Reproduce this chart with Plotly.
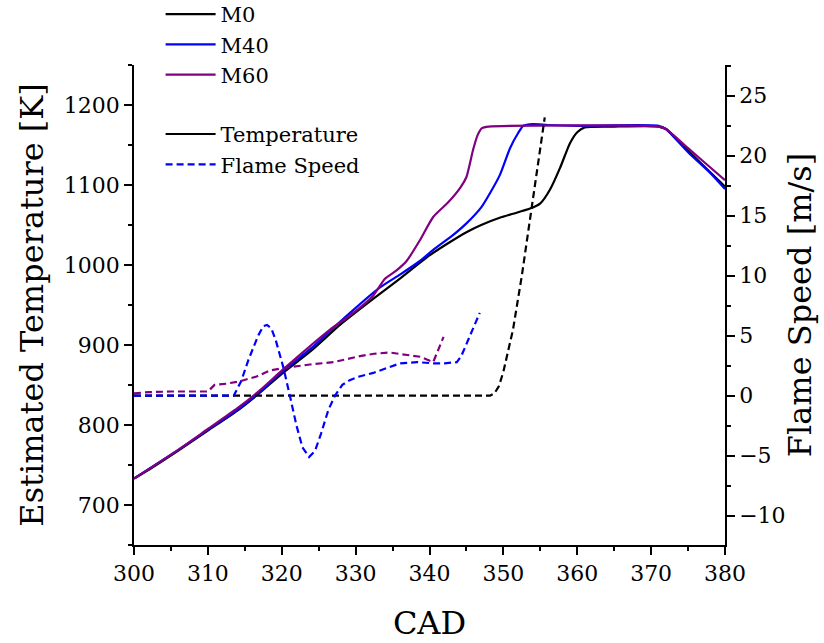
import plotly.graph_objects as go

# ---------------- data ----------------
cad_m0 = [300, 302, 306, 310, 314, 317, 320, 324, 328, 333, 336, 340, 343, 345, 347,
          349.5, 352, 354, 355, 356.3, 357.7, 359, 360, 361, 365, 371, 372, 375, 378, 380]
temp_m0 = [733, 744, 768, 793, 818, 840, 864, 893, 926, 962, 983, 1012, 1030, 1041, 1050,
           1059, 1066, 1072, 1077, 1094, 1122, 1152, 1166, 1172, 1173, 1173, 1170, 1143, 1116, 1098]

cad_m40 = [300, 306, 310, 314, 317, 320, 324, 328, 333.3, 336, 338.7, 340.5, 343, 345,
           347, 348.2, 349.5, 350.9, 352, 352.7, 354, 356, 360, 371, 372, 375, 378, 380]
temp_m40 = [733, 769, 794, 819, 841, 866, 896, 930, 972, 988, 1005, 1019, 1036, 1052,
            1072, 1090, 1112, 1146, 1165, 1174, 1176, 1175, 1174, 1174, 1170, 1141, 1115, 1095]

cad_m60 = [300, 306, 310, 314, 317, 320, 324, 326.5, 328.8, 330.5, 332.4, 334, 335.5,
           336.9, 338.7, 340.5, 342.5, 344.2, 345, 345.9, 346.5, 347.1, 348, 371, 372,
           375, 377, 380]
temp_m60 = [733, 769, 795, 821, 843, 868, 900, 919, 934, 946, 962, 983, 993,
            1005, 1031, 1060, 1078, 1097, 1110, 1144, 1162, 1171, 1173, 1173, 1170,
            1146, 1130, 1106]

cad_fs_m0 = [300, 348.2, 348.8, 349.4, 350.0, 350.6, 351.3, 352.5, 354.0, 355.6]
fs_m0 = [0, 0, 0.2, 0.8, 2.0, 3.6, 5.5, 10, 16.3, 23.2]

cad_fs_m40 = [300, 313.5, 314.5, 315.5, 316.8, 317.5, 318.0, 318.6, 319.2, 320.2, 321.1,
              322.0, 322.8, 323.7, 324.5, 325.3, 326.3, 327.2, 328.2, 329.2, 330.5,
              332.4, 334.2, 336.0, 338.3, 340.5, 342.0, 343.7, 344.3, 344.8, 345.8, 346.8]
fs_m40 = [0, 0, 1.2, 3.0, 5.0, 5.8, 5.9, 5.6, 4.6, 2.4, 0,
          -2.5, -4.3, -5.1, -4.6, -3.2, -1.2, 0, 0.9, 1.3, 1.6,
          1.9, 2.3, 2.7, 2.8, 2.7, 2.7, 2.8, 3.3, 4.0, 5.5, 6.9]

cad_fs_m60 = [300, 302, 305, 308, 310, 310.9, 312.5, 314.3, 316.6, 318.4, 320.2, 323.8,
              327.0, 330.6, 332.5, 334.6, 336.0, 336.9, 338.7, 340.5, 341.2, 341.9]
fs_m60 = [0.2, 0.3, 0.35, 0.35, 0.35, 0.9, 1.0, 1.2, 1.6, 2.1, 2.3, 2.6,
          2.8, 3.3, 3.5, 3.6, 3.5, 3.4, 3.25, 2.8, 3.8, 4.9]

BLACK = "#000000"
BLUE = "#0000FF"
PURPLE = "#800080"
FONT = "DejaVu Serif"
DASH = "7px,4px"
LW = 2.2

fig = go.Figure()

# temperature curves (left axis)
fig.add_trace(go.Scatter(x=cad_m0, y=temp_m0, mode="lines", name="M0",
                         line=dict(color=BLACK, width=LW, shape="spline", smoothing=0.6),
                         legendgroup="fuel"))
fig.add_trace(go.Scatter(x=cad_m40, y=temp_m40, mode="lines", name="M40",
                         line=dict(color=BLUE, width=LW, shape="spline", smoothing=0.6),
                         legendgroup="fuel"))
fig.add_trace(go.Scatter(x=cad_m60, y=temp_m60, mode="lines", name="M60",
                         line=dict(color=PURPLE, width=LW, shape="spline", smoothing=0.6),
                         legendgroup="fuel"))

# flame speed curves (right axis)
fig.add_trace(go.Scatter(x=cad_fs_m0, y=fs_m0, mode="lines", yaxis="y2", showlegend=False,
                         line=dict(color=BLACK, width=LW, dash=DASH)))
fig.add_trace(go.Scatter(x=cad_fs_m40, y=fs_m40, mode="lines", yaxis="y2", showlegend=False,
                         line=dict(color=BLUE, width=LW, dash=DASH)))
fig.add_trace(go.Scatter(x=cad_fs_m60, y=fs_m60, mode="lines", yaxis="y2", showlegend=False,
                         line=dict(color=PURPLE, width=LW, dash=DASH)))

# legend-only entries for line styles
fig.add_trace(go.Scatter(x=[None], y=[None], mode="lines", name="Temperature",
                         line=dict(color=BLACK, width=LW), legendgroup="style"))
fig.add_trace(go.Scatter(x=[None], y=[None], mode="lines", name="Flame Speed",
                         line=dict(color=BLUE, width=LW, dash=DASH), legendgroup="style"))

axis_common = dict(showline=True, linecolor="black", linewidth=1.5, ticks="outside",
                   ticklen=8, tickwidth=1.5, tickcolor="black", showgrid=False,
                   zeroline=False, automargin=False,
                   tickfont=dict(family=FONT, size=22, color="black"))

fig.update_layout(
    width=824, height=643,
    margin=dict(l=134, r=99, t=65, b=98, autoexpand=False),
    paper_bgcolor="white", plot_bgcolor="white",
    font=dict(family=FONT, color="black"),
    xaxis=dict(range=[300, 380], dtick=10, tick0=300,
               minor=dict(dtick=5, ticklen=4, tickwidth=1.5, tickcolor="black", ticks="outside"),
               title=dict(text="CAD", font=dict(family=FONT, size=32), standoff=26),
               **axis_common),
    yaxis=dict(range=[650, 1250], dtick=100, tick0=700,
               minor=dict(dtick=50, ticklen=4, tickwidth=1.5, tickcolor="black", ticks="outside"),
               title=dict(text="Estimated Temperature [K]", font=dict(family=FONT, size=32), standoff=11),
               **axis_common),
    yaxis2=dict(range=[-12.44, 27.56], dtick=5, tick0=0, overlaying="y", side="right",
                anchor="x",
                minor=dict(dtick=2.5, ticklen=4, tickwidth=1.5, tickcolor="black", ticks="outside"),
                title=dict(text="Flame Speed [m/s]", font=dict(family=FONT, size=32), standoff=4),
                **axis_common),
    legend=dict(x=0.045, y=1.148, xanchor="left", yanchor="top",
                font=dict(family=FONT, size=21, color="black"),
                bgcolor="rgba(0,0,0,0)", traceorder="grouped", tracegroupgap=29,
                itemwidth=50),
    showlegend=True,
)

fig.write_html("out.html")
